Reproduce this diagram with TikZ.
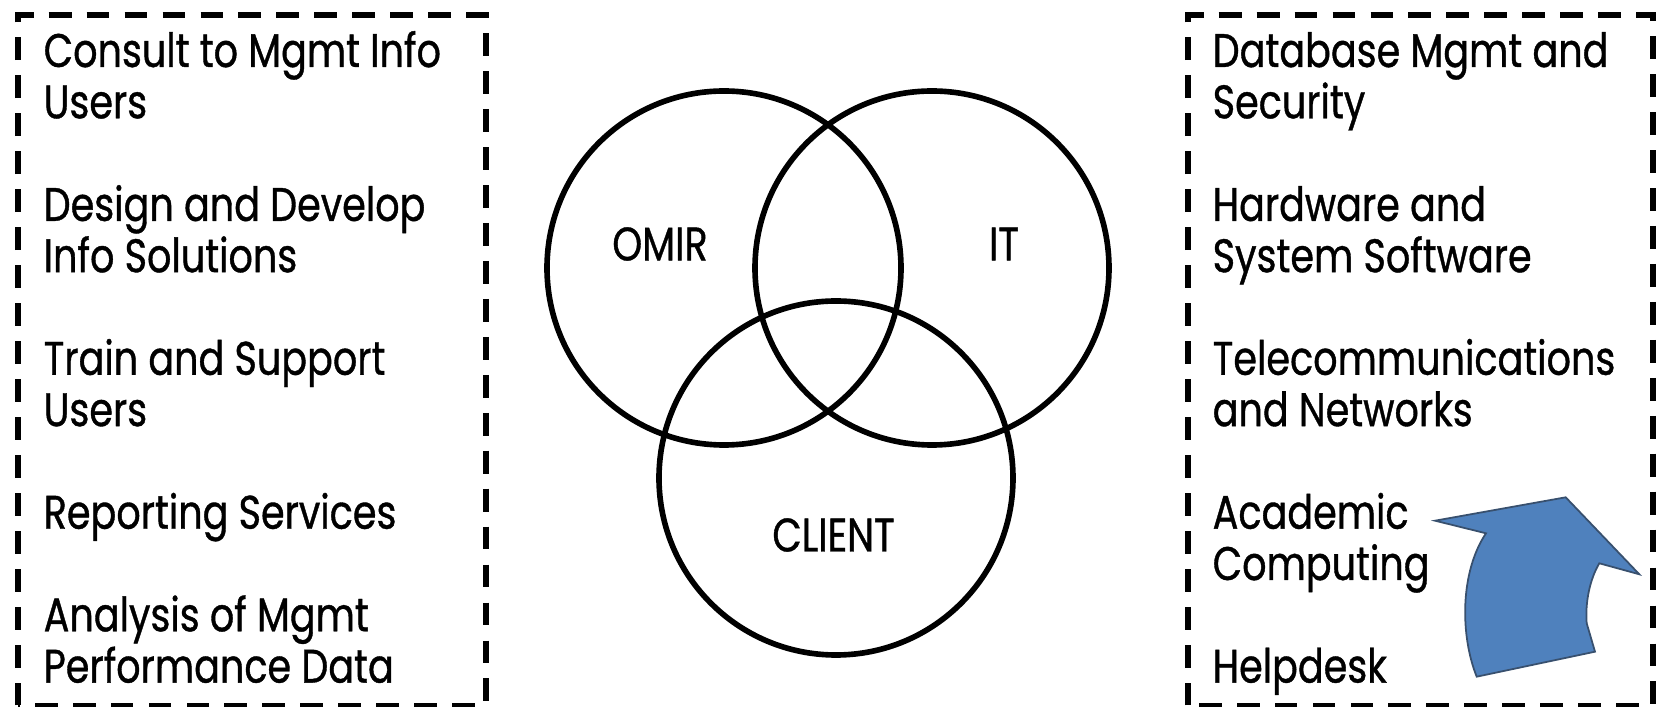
\documentclass[tikz,border=0pt]{standalone}
\usepackage{fontspec}
\setmainfont{Poppins}[FakeStretch=0.81, FakeBold=0.8]
\definecolor{shape_blue}{RGB}{79, 129, 189}
\definecolor{shape_edge}{RGB}{56, 80, 110}
\def \listfont {\fontsize{13.4}{14.6}\selectfont}

\begin{document}
\begin{tikzpicture}[
    duty/.style={
        anchor=base west,
        inner sep=0pt,
        align=left,
        font=\listfont
    },
    dashbox/.style={
        draw=black,
        line width=1.5pt,
        dash pattern=on 6.5pt off 4.3pt
    },
    venn/.style={
        circle,
        draw=black,
        line width=1.6pt,
        minimum size=3.54cm,
        inner sep=0pt
    },
    vennname/.style={
        inner sep=0pt,
        font=\listfont
    }
]
\useasboundingbox (0,0) rectangle (16.56,7.07);

% Left group of duties (base = last line)
\node[duty] (consult) at (0.43,5.887) {Consult to Mgmt Info\\Users};
\node[duty] (design) at (0.43,4.348) {Design and Develop\\Info Solutions};
\node[duty] (train) at (0.43,2.809) {Train and Support\\Users};
\node[duty] (reporting) at (0.43,1.783) {Reporting Services};
\node[duty] (analysis) at (0.43,0.244) {Analysis of Mgmt\\Performance Data};
\draw[dashbox] (0.18,0.015) rectangle (4.86,6.92);

% Right group of duties
\node[duty] (database) at (12.12,5.887) {Database Mgmt and\\Security};
\node[duty] (hardware) at (12.12,4.348) {Hardware and\\System Software};
\node[duty] (telecom) at (12.12,2.809) {Telecommunications\\and Networks};
\node[duty] (academic) at (12.12,1.27) {Academic\\Computing};
\node[duty] (helpdesk) at (12.12,0.244) {Helpdesk};
\draw[dashbox] (11.88,0.015) rectangle (16.53,6.92);

% Overlapping circles
\node[venn] (omir) at (7.24,4.39) {};
\node[venn] (it) at (9.32,4.39) {};
\node[venn] (client) at (8.36,2.29) {};

\node[vennname] (omirname) at (6.60,4.63) {OMIR};
\node[vennname] (itname) at (10.04,4.63) {IT};
\node[vennname] (clientname) at (8.335,1.72) {CLIENT};

% Bent block arrow
\draw[fill=shape_blue, draw=shape_edge, line width=0.5pt]
    (14.86,1.737) -- (14.35,1.863) -- (15.657,2.097) -- (16.393,1.327) -- (15.993,1.437)
    .. controls (15.90,1.28) and (15.85,1.05) .. (15.867,0.837) -- (15.95,0.553)
    -- (14.767,0.303) .. controls (14.60,0.72) and (14.60,1.35) .. (14.86,1.737) -- cycle;

\end{tikzpicture}
\end{document}
